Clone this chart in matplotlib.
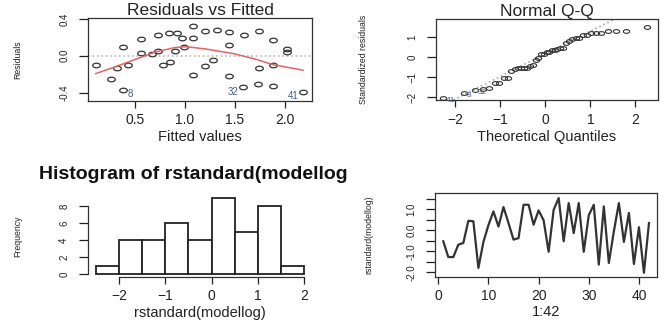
import matplotlib
matplotlib.use('Agg')
import matplotlib.pyplot as plt
import numpy as np
from matplotlib.path import Path

# residuals vs fitted
fitted = [0.107, 0.257, 0.317, 0.383, 0.383, 0.433, 0.557, 0.557, 0.67, 0.73,
          0.73, 0.783, 0.85, 0.84, 0.917, 0.9, 0.973, 0.993, 1.08, 1.083,
          1.083, 1.197, 1.197, 1.283, 1.323, 1.437, 1.437, 1.437, 1.58, 1.59,
          1.733, 1.74, 1.74, 1.877, 1.877, 1.877, 2.023, 2.023, 2.177]
resid = [-0.105, -0.255, -0.135, 0.095, -0.367, -0.098, 0.185, 0.033, 0.022, 0.055,
         0.222, -0.098, -0.065, 0.247, 0.247, 0.047, 0.196, 0.098, 0.32, 0.196,
         -0.211, 0.273, -0.109, -0.044, 0.28, 0.255, 0.12, -0.222, -0.342, 0.229,
         -0.309, 0.273, -0.135, 0.175, -0.102, -0.324, 0.069, 0.036, -0.396]
rvf_labels = ['8', '32', '41']
rvf_label_idx = [4, 28, 38]

smooth_x = [0.107, 0.3, 0.5, 0.7, 0.9, 1.02, 1.2, 1.48, 1.7, 1.88, 2.05, 2.18]
smooth_y = [-0.193, -0.12, -0.04, 0.04, 0.09, 0.098, 0.075, 0.025, -0.035, -0.095, -0.13, -0.156]

# standardized residuals, observations 1..42
rstd = [-0.52, -1.27, -1.27, -0.68, -0.60, 0.46, 0.43, -1.79, -0.55, 0.25,
        0.90, 0.18, 1.11, 0.35, -0.44, -0.37, 1.22, 1.22, 0.27, 0.95,
        0.48, -1.02, 0.98, 1.54, -0.52, 1.30, -0.13, 1.30, -1.02, 0.72,
        1.22, -1.63, 1.14, -1.55, -0.05, 1.30, -0.55, 0.83, -1.60, 0.15,
        -2.02, 0.35]
obs = list(range(1, 43))

theo_q = [-2.26, -1.80, -1.56, -1.383, -1.242, -1.122, -1.016, -0.921, -0.833, -0.752,
          -0.674, -0.601, -0.531, -0.464, -0.398, -0.334, -0.272, -0.210, -0.150, -0.090,
          -0.030, 0.030, 0.090, 0.150, 0.210, 0.272, 0.334, 0.398, 0.464, 0.531,
          0.601, 0.674, 0.752, 0.833, 0.921, 1.016, 1.122, 1.242, 1.383, 1.56,
          1.80, 2.26]
qq_labels = ['41', '8', '32']

hist_breaks = [-2.5, -2.0, -1.5, -1.0, -0.5, 0.0, 0.5, 1.0, 1.5, 2.0]

W, H = 664, 327
plt.rcParams['font.family'] = ['Liberation Sans', 'DejaVu Sans']
ink = '#222222'

def rect(x0, y0, x1, y1):
    return [x0 / W, 1 - y1 / H, (x1 - x0) / W, (y1 - y0) / H]

def style(ax, box, xlab, ylab, xlab_y, ylab_x):
    x0, y0, x1, y1 = box
    ax.set_xlabel(xlab, fontsize=10.5, color=ink)
    ax.set_ylabel(ylab, fontsize=6.3, color=ink)
    ax.xaxis.set_label_coords(0.5, (y1 - xlab_y) / (y1 - y0))
    ax.xaxis.label.set_va('center')
    ax.yaxis.set_label_coords((ylab_x - x0) / (x1 - x0), 0.5)
    ax.yaxis.label.set_va('center')
    ax.tick_params(axis='x', length=5, width=0.9, pad=4, labelsize=10, colors=ink)
    ax.tick_params(axis='y', length=6.5, width=0.9, pad=7, labelsize=7, colors=ink,
                   labelrotation=90)
    for lbl in ax.get_yticklabels():
        lbl.set_va('center')
    for s in ax.spines.values():
        s.set_color('#333333')
        s.set_linewidth(0.9)

t = np.linspace(0, 2 * np.pi, 30)
ell = Path(np.c_[np.cos(t), 0.6 * np.sin(t)])

fig = plt.figure(figsize=(W / 100, H / 100), dpi=100)

# Residuals vs Fitted
box1 = (88, 18, 312, 101)
ax1 = fig.add_axes(rect(*box1))
ax1.axhline(0, color='#bbbbbb', ls=':', lw=1.2)
ax1.plot(fitted, resid, ls='none', marker=ell, ms=5.5, mfc='none', mec='#333333', mew=0.9)
ax1.plot(smooth_x, smooth_y, color='#f06060', lw=1.1)
for lab, i in zip(rvf_labels, rvf_label_idx):
    if fitted[i] < 1.2:
        ax1.annotate(lab, (fitted[i], resid[i]), xytext=(3, -3), textcoords='offset points',
                     ha='left', va='center', fontsize=7, color='#4b5b86')
    else:
        ax1.annotate(lab, (fitted[i], resid[i]), xytext=(-3, -3), textcoords='offset points',
                     ha='right', va='center', fontsize=7, color='#4b5b86')
ax1.set_xlim(0.03, 2.27)
ax1.set_ylim(-0.49, 0.41)
ax1.set_xticks([0.5, 1.0, 1.5, 2.0])
ax1.set_xticklabels(['0.5', '1.0', '1.5', '2.0'])
ax1.set_yticks([-0.4, 0.0, 0.4])
ax1.set_yticklabels(['-0.4', '0.0', '0.4'])
ax1.set_title('Residuals vs Fitted', fontsize=12.5, color=ink, pad=2.5)
style(ax1, box1, 'Fitted values', 'Residuals', 137, 18)

# Normal Q-Q
box2 = (436, 19, 658, 100)
ax2 = fig.add_axes(rect(*box2))
srt = sorted(rstd)
q1y, q3y = np.percentile(rstd, [25, 75])
slope = (q3y - q1y) / (2 * 0.674)
icpt = q1y + slope * 0.674
ax2.plot([-3, 3], [icpt - 3 * slope, icpt + 3 * slope], color='#aaaaaa', ls=':', lw=1.2)
ax2.plot(theo_q, srt, ls='none', marker=ell, ms=4.5, mfc='none', mec='#333333', mew=0.8)
for k, lab in enumerate(qq_labels):
    ax2.annotate(lab, (theo_q[k], srt[k]), xytext=(2, -2), textcoords='offset points',
                 ha='left', va='center', fontsize=6, color='#4b5b86')
ax2.set_xlim(-2.42, 2.5)
ax2.set_ylim(-2.13, 1.92)
ax2.set_xticks([-2, -1, 0, 1, 2])
ax2.set_yticks([-2, -1, 0, 1])
ax2.set_title('Normal Q-Q', fontsize=12.5, color=ink, pad=2.5)
style(ax2, box2, 'Theoretical Quantiles', 'Standardized residuals', 136.7, 363.7)

# Histogram
box3 = (88, 195, 312, 277)
ax3 = fig.add_axes(rect(*box3))
ax3.hist(rstd, bins=hist_breaks, color='white', edgecolor=ink, lw=1.3)
ax3.set_xlim(-2.68, 2.18)
ax3.set_ylim(-0.36, 9.36)
ax3.set_xticks([-2, -1, 0, 1, 2])
ax3.set_yticks([0, 2, 4, 6, 8])
ax3.spines['top'].set_visible(False)
ax3.spines['right'].set_visible(False)
style(ax3, box3, 'rstandard(modellog)', 'Frequency', 312.7, 18)
ax3.spines['left'].set_bounds(0, 8)
ax3.spines['bottom'].set_bounds(-2, 2)
fig.text(39 / W, 1 - 179 / H, 'Histogram of rstandard(modellog', fontsize=14,
         fontweight='bold', color='#111111', ha='left', va='baseline')

# index plot
box4 = (435, 193, 657, 277)
ax4 = fig.add_axes(rect(*box4))
ax4.plot(obs, rstd, color='#333333', lw=1.6)
ax4.set_xlim(-0.65, 43.6)
ax4.set_ylim(-2.22, 1.78)
ax4.set_xticks([0, 10, 20, 30, 40])
ax4.set_yticks([-2.0, -1.5, -1.0, -0.5, 0.0, 0.5, 1.0, 1.5])
ax4.set_yticklabels(['-2.0', '', '-1.0', '', '0.0', '', '1.0', ''])
style(ax4, box4, '1:42', 'rstandard(modellog)', 311.7, 368.7)

fig.savefig('out.png', dpi=100, facecolor='white')
